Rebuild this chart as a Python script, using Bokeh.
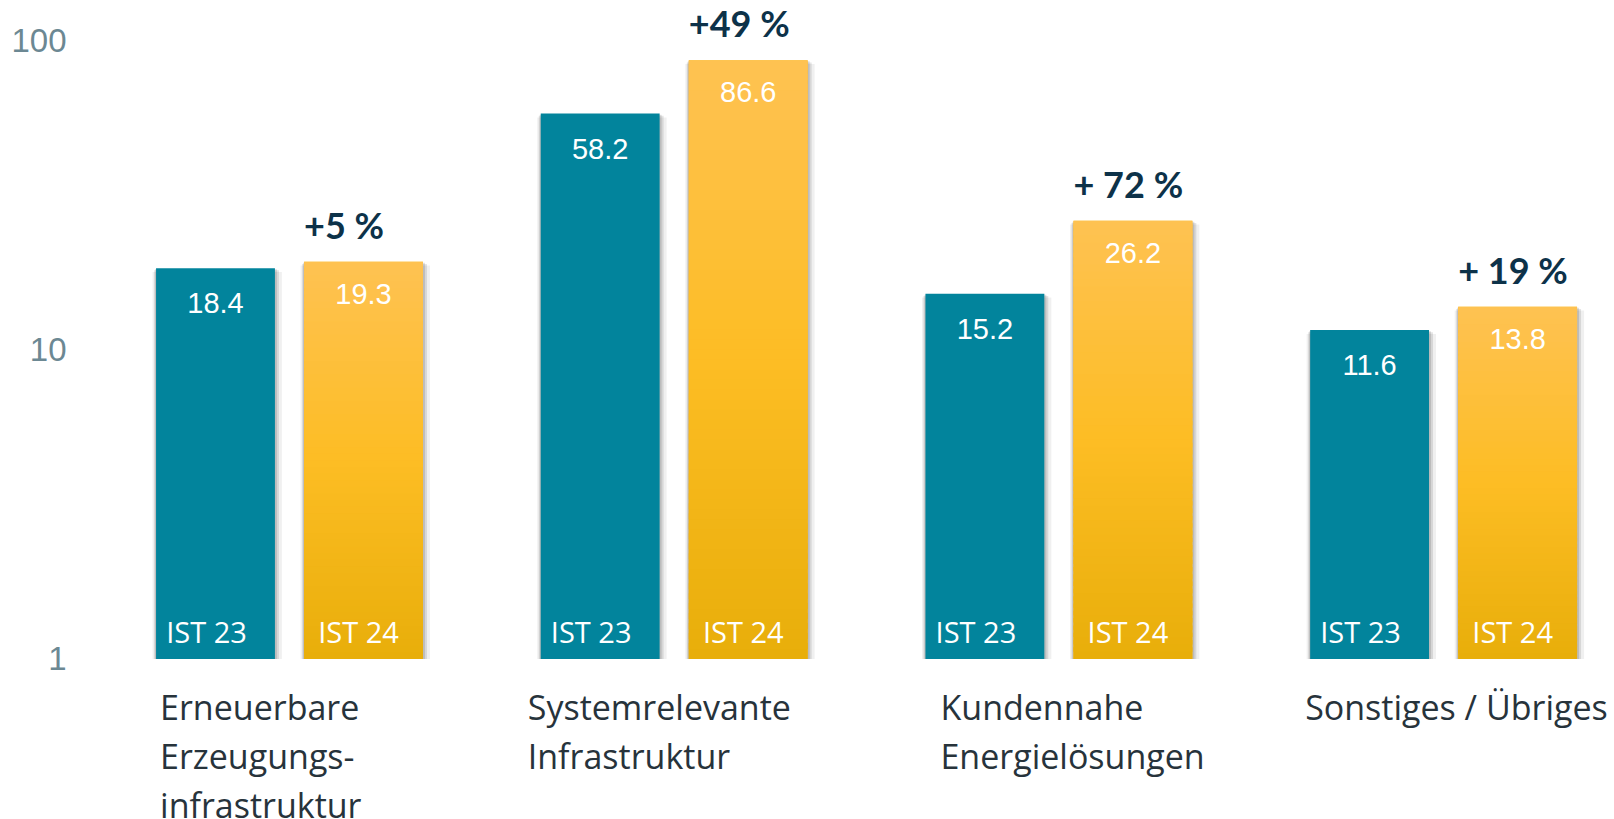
from bokeh.plotting import figure
from bokeh.models import ColumnDataSource, Range1d, FixedTicker
from bokeh.core.properties import value
from bokeh.embed import file_html
from bokeh.resources import INLINE

# ---- data ----
categories = ["Erneuerbare\nErzeugungs-\ninfrastruktur",
              "Systemrelevante\nInfrastruktur",
              "Kundennahe\nEnergielösungen",
              "Sonstiges / Übriges"]
ist23 = [18.4, 58.2, 15.2, 11.6]
ist24 = [19.3, 86.6, 26.2, 13.8]
changes = ["+5 %", "+49 %", "+ 72 %", "+ 19 %"]
series_names = ["IST 23", "IST 24"]
y_ticks = [1, 10, 100]

# ---- layout constants ----
OFF = 0.1924
W = 0.309
TEAL = "#02849C"
cat_dx = [4, -13, 15, -5]  # pixel tweak of category label relative to bar left

p = figure(width=1614, height=819, y_axis_type="log",
           x_range=Range1d(-0.5433, 3.4442), y_range=Range1d(0.3024, 135.2),
           output_backend="svg", toolbar_location=None, x_axis_location=None,
           min_border_left=80, min_border_right=0, min_border_top=0, min_border_bottom=0,
           background_fill_color="white", border_fill_color="white")
p.outline_line_color = None
p.xgrid.visible = False
p.ygrid.visible = False

ax = p.yaxis[0]
ax.ticker = FixedTicker(ticks=y_ticks)
ax.major_label_overrides = {t: str(t) for t in y_ticks}
ax.axis_line_color = None
ax.major_tick_line_color = None
ax.minor_tick_line_color = None
ax.major_label_text_font = "Liberation Sans"
ax.major_label_text_font_size = "33px"
ax.major_label_text_color = "#6C8893"
ax.major_label_standoff = 8

idx = list(range(len(categories)))
x23 = [i - OFF for i in idx]
x24 = [i + OFF for i in idx]

# soft shadows
PX = 1 / 384.7
for xs, vals in ((x23, ist23), (x24, ist24)):
    for shift, alpha in ((7, 0.06), (4, 0.10), (2, 0.12)):
        p.quad(left=[x - W / 2 - shift * PX * 0.5 for x in xs],
               right=[x + W / 2 + shift * PX for x in xs],
               bottom=[1] * len(vals), top=[v * (1 - 0.004 * shift) for v in vals],
               fill_color="#000000", fill_alpha=alpha, line_color=None)

# teal bars
src23 = ColumnDataSource(dict(left=[x - W / 2 for x in x23], right=[x + W / 2 for x in x23],
                              bottom=[1] * len(ist23), top=ist23))
p.quad(left="left", right="right", bottom="bottom", top="top", source=src23,
       fill_color=TEAL, line_color=None)

# yellow bars with vertical gradient (slices in log space)
def lerp(c1, c2, t):
    a = [int(c1[i:i + 2], 16) for i in (1, 3, 5)]
    b = [int(c2[i:i + 2], 16) for i in (1, 3, 5)]
    return "#%02x%02x%02x" % tuple(round(a[k] + (b[k] - a[k]) * t) for k in range(3))

stops = [(0.0, "#FEC252"), (0.5, "#FDBD24"), (1.0, "#E8AE0A")]
def grad(t):
    for (t0, c0), (t1, c1) in zip(stops[:-1], stops[1:]):
        if t <= t1:
            return lerp(c0, c1, (t - t0) / (t1 - t0))
    return stops[-1][1]

src24 = ColumnDataSource(dict(left=[x - W / 2 for x in x24], right=[x + W / 2 for x in x24],
                              bottom=[1] * len(ist24), top=ist24))
p.quad(left="left", right="right", bottom="bottom", top="top", source=src24,
       fill_color="#FBBA1E", line_color=None)

N = 60
gl, gr, gb, gt, gc = [], [], [], [], []
for x, v in zip(x24, ist24):
    for k in range(N):
        gl.append(x - W / 2)
        gr.append(x + W / 2)
        gb.append(v ** (k / N))
        gt.append(v ** (min(k + 1.6, N) / N))
        gc.append(grad(1 - (k + 0.5) / N))
p.quad(left="left", right="right", bottom="bottom", top="top", fill_color="color",
       line_color=None,
       source=ColumnDataSource(dict(left=gl, right=gr, bottom=gb, top=gt, color=gc)))

# value labels
vsrc23 = ColumnDataSource(dict(x=x23, y=ist23, t=[f"{v:.1f}" for v in ist23]))
vsrc24 = ColumnDataSource(dict(x=x24, y=ist24, t=[f"{v:.1f}" for v in ist24]))
for s, off in ((vsrc23, 35), (vsrc24, 32)):
    p.text(x="x", y="y", text="t", source=s, text_align="center", text_baseline="middle",
           y_offset=off, text_color="white", text_font=value("Liberation Sans"),
           text_font_size="29px")

# series labels at bottom
for xs, name, dx in ((x23, series_names[0], -9), (x24, series_names[1], -5)):
    s = ColumnDataSource(dict(x=xs, y=[1] * len(xs), t=[name] * len(xs)))
    p.text(x="x", y="y", text="t", source=s, text_align="center", text_baseline="middle",
           x_offset=dx, y_offset=-27, text_color="white", text_font=value("Open Sans"),
           text_font_size="29px")

# change labels
csrc = ColumnDataSource(dict(x=[x - W / 2 for x in x24], y=ist24, t=changes))
p.text(x="x", y="y", text="t", source=csrc, text_align="left", text_baseline="middle",
       y_offset=-37, text_color="#0D3249", text_font=value("Lato"), text_font_style="bold",
       text_font_size="36px")

# category labels
ksrc = ColumnDataSource(dict(x=[x - W / 2 for x in x23], y=[1] * len(categories),
                             t=categories, dx=cat_dx))
p.text(x="x", y="y", text="t", source=ksrc, text_align="left", text_baseline="top",
       x_offset="dx", y_offset=25, text_color="#27333B", text_font=value("Open Sans"),
       text_font_size="34px", text_line_height=1.07)

open("out.html", "w").write(file_html(p, INLINE))
